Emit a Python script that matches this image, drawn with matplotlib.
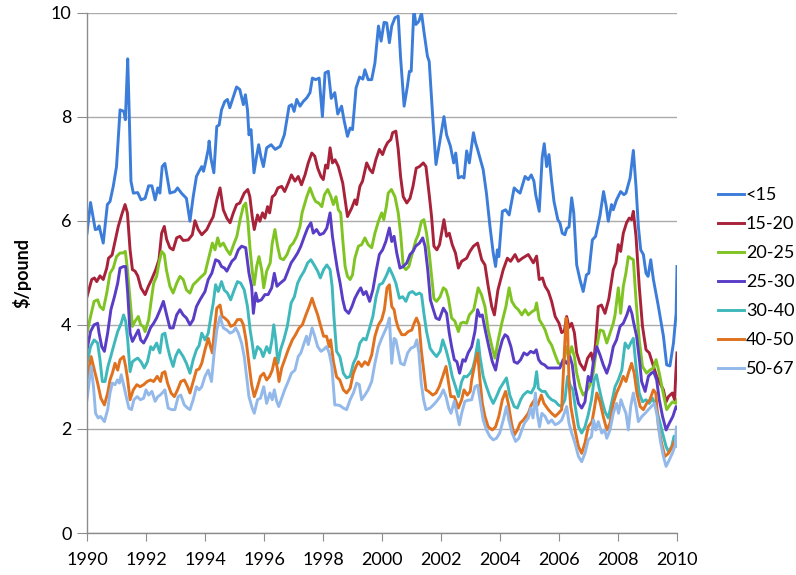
import matplotlib
matplotlib.use("Agg")
import matplotlib.pyplot as plt

plt.rcParams["font.family"] = ["Lato", "DejaVu Sans"]

# ── data (year, $/pound) ────────────────────────────────────────────────────
labels = ["<15", "15-20", "20-25", "25-30", "30-40", "40-50", "50-67"]
colors = ["#3C7DDA", "#A8233A", "#80C423", "#5A3DC6", "#3FB8BC", "#E0711F", "#93B8EA"]

t_lt15 = [1990.00, 1990.12, 1990.28, 1990.36, 1990.41, 1990.55, 1990.69, 1990.78, 1990.89, 1991.00,
          1991.12, 1991.25, 1991.30, 1991.38, 1991.42, 1991.49, 1991.57, 1991.72, 1991.83, 1991.97,
          1992.09, 1992.20, 1992.31, 1992.40, 1992.47, 1992.55, 1992.64, 1992.81, 1992.98, 1993.07,
          1993.20, 1993.37, 1993.49, 1993.60, 1993.71, 1993.80, 1993.89, 1993.95, 1994.00, 1994.11,
          1994.14, 1994.20, 1994.30, 1994.40, 1994.48, 1994.56, 1994.67, 1994.76, 1994.84, 1994.95,
          1995.07, 1995.18, 1995.30, 1995.37, 1995.44, 1995.49, 1995.56, 1995.66, 1995.75, 1995.82,
          1995.89, 1995.98, 1996.09, 1996.24, 1996.38, 1996.55, 1996.69, 1996.85, 1996.94, 1997.02,
          1997.11, 1997.22, 1997.33, 1997.45, 1997.56, 1997.64, 1997.75, 1997.87, 1997.98, 1998.07,
          1998.18, 1998.28, 1998.40, 1998.50, 1998.63, 1998.71, 1998.83, 1998.92, 1999.00, 1999.12,
          1999.24, 1999.35, 1999.42, 1999.53, 1999.65, 1999.76, 1999.88, 1999.97, 2000.07, 2000.16,
          2000.25, 2000.33, 2000.44, 2000.55, 2000.63, 2000.75, 2000.86, 2000.93, 2000.99, 2001.08,
          2001.15, 2001.25, 2001.34, 2001.42, 2001.54, 2001.60, 2001.74, 2001.83, 2001.97, 2002.10,
          2002.19, 2002.32, 2002.43, 2002.50, 2002.59, 2002.70, 2002.78, 2002.87, 2002.96, 2003.10,
          2003.17, 2003.24, 2003.43, 2003.54, 2003.66, 2003.77, 2003.85, 2003.91, 2003.96, 2004.08,
          2004.19, 2004.31, 2004.48, 2004.61, 2004.68, 2004.85, 2004.96, 2005.06, 2005.15, 2005.21,
          2005.33, 2005.43, 2005.50, 2005.58, 2005.66, 2005.75, 2005.83, 2005.96, 2006.03, 2006.11,
          2006.20, 2006.26, 2006.34, 2006.43, 2006.50, 2006.60, 2006.71, 2006.82, 2006.93, 2007.01,
          2007.13, 2007.24, 2007.39, 2007.51, 2007.60, 2007.67, 2007.78, 2007.84, 2007.95, 2008.09,
          2008.20, 2008.27, 2008.41, 2008.52, 2008.61, 2008.69, 2008.77, 2008.86, 2008.95, 2009.02,
          2009.11, 2009.20, 2009.37, 2009.54, 2009.65, 2009.76, 2009.88, 2009.97, 2010.00]
v_lt15 = [5.76, 6.35, 5.83, 5.84, 5.90, 5.57, 6.31, 6.37, 6.66, 7.04,
          8.13, 8.10, 7.94, 9.11, 8.30, 6.76, 6.53, 6.54, 6.40, 6.43,
          6.67, 6.67, 6.40, 6.63, 6.53, 7.04, 7.10, 6.53, 6.56, 6.63,
          6.53, 6.43, 5.99, 6.46, 6.85, 6.95, 7.04, 6.95, 7.07, 7.37,
          7.53, 7.20, 6.92, 7.81, 7.84, 8.13, 8.29, 8.33, 8.17, 8.36,
          8.57, 8.52, 8.23, 8.42, 8.13, 7.65, 7.75, 6.92, 7.24, 7.46,
          7.24, 7.04, 7.40, 7.46, 7.37, 7.43, 7.65, 8.20, 8.23, 8.10,
          8.33, 8.20, 8.29, 8.36, 8.46, 8.74, 8.71, 8.74, 8.00, 8.84,
          8.87, 8.35, 8.46, 8.05, 8.20, 7.94, 7.62, 7.78, 7.75, 8.55,
          8.76, 8.72, 8.90, 8.71, 8.71, 9.03, 9.74, 9.45, 9.81, 9.80,
          9.42, 9.74, 9.90, 9.93, 9.13, 8.20, 8.58, 8.87, 8.87, 10.06,
          9.77, 9.83, 9.99, 9.64, 9.16, 9.06, 7.81, 7.08, 7.56, 8.00,
          7.65, 7.43, 7.11, 7.30, 6.82, 6.85, 6.82, 7.34, 7.11, 7.69,
          7.50, 7.37, 6.98, 6.53, 5.89, 5.38, 5.12, 5.44, 5.31, 6.18,
          6.21, 6.11, 6.63, 6.56, 6.53, 6.85, 6.79, 6.88, 6.76, 6.50,
          6.18, 7.21, 7.48, 7.04, 7.27, 6.76, 6.37, 6.02, 5.96, 5.76,
          5.73, 5.85, 5.88, 6.44, 6.15, 5.15, 4.87, 4.64, 4.96, 4.99,
          5.63, 5.70, 6.10, 6.56, 6.28, 5.99, 6.31, 6.21, 6.40, 6.56,
          6.50, 6.53, 6.82, 7.35, 6.66, 5.89, 5.44, 5.35, 4.99, 4.93,
          5.25, 4.87, 4.35, 3.78, 3.23, 3.21, 3.65, 4.22, 5.12]

t_15_20 = [1990.00, 1990.16, 1990.25, 1990.33, 1990.44, 1990.55, 1990.67, 1990.73, 1990.85, 1990.95,
           1991.06, 1991.18, 1991.29, 1991.37, 1991.46, 1991.54, 1991.63, 1991.72, 1991.83, 1991.97,
           1992.08, 1992.19, 1992.33, 1992.44, 1992.53, 1992.62, 1992.70, 1992.81, 1992.92, 1993.04,
           1993.15, 1993.26, 1993.43, 1993.57, 1993.66, 1993.77, 1993.89, 1994.06, 1994.17, 1994.28,
           1994.40, 1994.51, 1994.62, 1994.74, 1994.85, 1994.96, 1995.07, 1995.18, 1995.33, 1995.45,
           1995.52, 1995.60, 1995.67, 1995.78, 1995.86, 1995.95, 1996.03, 1996.12, 1996.19, 1996.28,
           1996.37, 1996.47, 1996.60, 1996.70, 1996.82, 1996.93, 1997.05, 1997.16, 1997.27, 1997.39,
           1997.50, 1997.62, 1997.72, 1997.82, 1997.93, 1998.01, 1998.09, 1998.16, 1998.24, 1998.32,
           1998.41, 1998.52, 1998.67, 1998.83, 1998.97, 1999.08, 1999.14, 1999.25, 1999.34, 1999.48,
           1999.59, 1999.68, 1999.79, 1999.91, 2000.02, 2000.10, 2000.19, 2000.30, 2000.36, 2000.47,
           2000.55, 2000.63, 2000.72, 2000.84, 2000.95, 2001.05, 2001.16, 2001.27, 2001.40, 2001.49,
           2001.60, 2001.68, 2001.76, 2001.86, 2001.95, 2002.10, 2002.19, 2002.28, 2002.38, 2002.49,
           2002.59, 2002.70, 2002.87, 2002.98, 2003.10, 2003.24, 2003.38, 2003.49, 2003.60, 2003.72,
           2003.81, 2003.93, 2004.11, 2004.25, 2004.36, 2004.51, 2004.62, 2004.76, 2004.96, 2005.13,
           2005.24, 2005.33, 2005.44, 2005.53, 2005.64, 2005.75, 2005.87, 2006.00, 2006.09, 2006.18,
           2006.26, 2006.34, 2006.43, 2006.52, 2006.60, 2006.71, 2006.86, 2006.97, 2007.09, 2007.17,
           2007.24, 2007.33, 2007.44, 2007.56, 2007.69, 2007.84, 2007.93, 2008.01, 2008.09, 2008.18,
           2008.29, 2008.38, 2008.46, 2008.52, 2008.61, 2008.72, 2008.83, 2008.95, 2009.06, 2009.17,
           2009.31, 2009.42, 2009.54, 2009.63, 2009.71, 2009.84, 2009.92, 2009.96, 2010.00]
v_15_20 = [4.54, 4.87, 4.90, 4.83, 4.94, 4.87, 5.09, 5.28, 5.34, 5.60,
           5.89, 6.12, 6.31, 6.15, 5.44, 5.06, 5.03, 4.94, 4.71, 4.58,
           4.74, 4.87, 5.06, 5.25, 5.76, 5.89, 5.64, 5.48, 5.44, 5.67,
           5.70, 5.62, 5.63, 5.73, 6.00, 5.83, 5.73, 5.83, 5.96, 6.08,
           6.40, 6.63, 6.21, 6.05, 5.96, 6.15, 6.31, 6.34, 6.53, 6.60,
           6.46, 6.08, 5.83, 6.11, 5.99, 6.15, 6.05, 6.27, 6.15, 6.46,
           6.50, 6.63, 6.66, 6.56, 6.72, 6.88, 6.76, 6.85, 6.69, 6.88,
           7.11, 7.30, 7.24, 7.01, 6.85, 6.79, 7.07, 7.01, 7.40, 7.11,
           7.17, 7.04, 6.72, 6.08, 6.24, 6.40, 6.31, 6.66, 6.76, 7.11,
           6.98, 6.92, 7.17, 7.37, 7.27, 7.40, 7.50, 7.56, 7.69, 7.72,
           7.37, 6.85, 6.46, 6.34, 6.43, 6.66, 7.01, 7.04, 7.11, 7.04,
           6.50, 6.08, 5.51, 5.44, 5.54, 6.02, 5.70, 5.76, 5.54, 5.38,
           5.09, 5.22, 5.28, 5.41, 5.51, 5.57, 5.25, 5.15, 4.74, 4.35,
           4.19, 4.67, 5.06, 5.28, 5.22, 5.35, 5.22, 5.28, 5.35, 5.19,
           5.32, 4.87, 4.90, 4.74, 4.64, 4.45, 4.16, 4.03, 3.85, 3.88,
           4.16, 3.95, 4.03, 3.85, 3.46, 3.26, 3.13, 3.36, 3.46, 3.26,
           3.65, 4.35, 4.38, 4.22, 4.50, 5.06, 5.19, 5.54, 5.41, 5.76,
           5.96, 6.05, 6.02, 6.18, 5.70, 4.74, 3.97, 3.52, 3.46, 3.26,
           3.01, 2.88, 2.75, 2.52, 2.62, 2.69, 2.56, 3.07, 3.46]

t_20_25 = [1990.00, 1990.12, 1990.24, 1990.36, 1990.44, 1990.55, 1990.67, 1990.78, 1990.89, 1991.00,
           1991.12, 1991.22, 1991.30, 1991.37, 1991.46, 1991.54, 1991.63, 1991.74, 1991.82, 1991.90,
           1991.97, 1992.09, 1992.18, 1992.26, 1992.36, 1992.44, 1992.53, 1992.62, 1992.69, 1992.81,
           1992.92, 1993.04, 1993.15, 1993.26, 1993.37, 1993.49, 1993.60, 1993.71, 1993.83, 1994.00,
           1994.11, 1994.25, 1994.34, 1994.43, 1994.51, 1994.62, 1994.74, 1994.85, 1994.97, 1995.08,
           1995.19, 1995.30, 1995.38, 1995.45, 1995.53, 1995.61, 1995.67, 1995.75, 1995.83, 1995.92,
           1995.99, 1996.09, 1996.21, 1996.28, 1996.37, 1996.46, 1996.55, 1996.66, 1996.78, 1996.89,
           1996.99, 1997.11, 1997.22, 1997.29, 1997.45, 1997.56, 1997.67, 1997.75, 1997.85, 1997.96,
           1998.05, 1998.16, 1998.27, 1998.35, 1998.44, 1998.52, 1998.60, 1998.67, 1998.75, 1998.83,
           1998.92, 1999.00, 1999.08, 1999.20, 1999.31, 1999.42, 1999.53, 1999.65, 1999.76, 1999.88,
           1999.99, 2000.06, 2000.15, 2000.21, 2000.32, 2000.44, 2000.55, 2000.63, 2000.72, 2000.81,
           2000.91, 2001.03, 2001.15, 2001.23, 2001.34, 2001.42, 2001.51, 2001.60, 2001.68, 2001.76,
           2001.85, 2001.97, 2002.08, 2002.17, 2002.25, 2002.36, 2002.47, 2002.59, 2002.67, 2002.76,
           2002.87, 2002.96, 2003.11, 2003.26, 2003.37, 2003.49, 2003.60, 2003.74, 2003.83, 2003.94,
           2004.06, 2004.20, 2004.31, 2004.40, 2004.51, 2004.62, 2004.74, 2004.85, 2004.96, 2005.08,
           2005.19, 2005.24, 2005.33, 2005.44, 2005.53, 2005.64, 2005.75, 2005.87, 2005.98, 2006.09,
           2006.18, 2006.26, 2006.34, 2006.43, 2006.52, 2006.60, 2006.71, 2006.82, 2006.93, 2007.05,
           2007.16, 2007.28, 2007.39, 2007.50, 2007.62, 2007.73, 2007.84, 2007.90, 2008.01, 2008.09,
           2008.18, 2008.27, 2008.35, 2008.43, 2008.52, 2008.61, 2008.72, 2008.83, 2008.97, 2009.08,
           2009.20, 2009.29, 2009.40, 2009.51, 2009.65, 2009.76, 2009.85, 2009.96, 2010.00]
v_20_25 = [3.84, 4.16, 4.45, 4.48, 4.35, 4.29, 4.61, 4.99, 5.09, 5.31,
           5.38, 5.38, 5.41, 5.06, 4.48, 3.97, 4.07, 4.16, 4.00, 3.97,
           3.87, 4.10, 4.48, 4.80, 4.93, 5.19, 5.41, 5.35, 5.06, 4.74,
           4.61, 4.80, 4.93, 4.87, 4.67, 4.61, 4.77, 4.83, 4.90, 4.99,
           5.25, 5.57, 5.44, 5.67, 5.51, 5.57, 5.44, 5.35, 5.54, 5.70,
           6.02, 6.28, 6.34, 6.02, 5.44, 4.99, 4.77, 5.12, 5.31, 5.06,
           4.71, 5.03, 5.19, 5.57, 5.83, 5.51, 5.28, 5.25, 5.35, 5.51,
           5.57, 5.70, 5.89, 6.15, 6.46, 6.63, 6.46, 6.37, 6.34, 6.27,
           6.50, 6.60, 6.46, 6.31, 6.46, 6.21, 6.15, 5.63, 5.12, 4.93,
           4.87, 4.96, 5.28, 5.51, 5.54, 5.67, 5.54, 5.48, 5.76, 5.99,
           6.15, 6.02, 6.28, 6.53, 6.60, 6.46, 6.15, 5.76, 5.12, 5.06,
           5.12, 5.38, 5.63, 5.73, 5.99, 6.02, 5.76, 5.38, 4.93, 4.50,
           4.45, 4.54, 4.71, 4.67, 4.51, 4.13, 4.07, 3.87, 4.03, 4.05,
           4.03, 4.19, 4.29, 4.71, 4.58, 4.35, 3.90, 3.55, 3.36, 3.71,
           4.03, 4.35, 4.71, 4.45, 4.35, 4.29, 4.19, 4.29, 4.19, 4.25,
           4.29, 4.42, 4.10, 4.00, 3.90, 3.71, 3.61, 3.42, 3.26, 3.23,
           3.33, 3.58, 3.39, 3.58, 3.39, 3.07, 2.81, 2.65, 2.72, 2.84,
           3.07, 3.58, 3.90, 3.88, 3.65, 3.84, 4.03, 4.19, 4.71, 4.22,
           4.74, 5.00, 5.31, 5.28, 5.25, 4.48, 3.71, 3.20, 3.07, 3.13,
           3.17, 3.33, 3.07, 2.75, 2.37, 2.46, 2.52, 2.49, 2.56]

t_25_30 = [1990.00, 1990.12, 1990.24, 1990.36, 1990.41, 1990.50, 1990.59, 1990.70, 1990.81, 1990.93,
           1991.04, 1991.12, 1991.24, 1991.31, 1991.38, 1991.46, 1991.54, 1991.63, 1991.74, 1991.82,
           1991.92, 1992.04, 1992.15, 1992.26, 1992.36, 1992.48, 1992.59, 1992.70, 1992.81, 1992.92,
           1993.04, 1993.15, 1993.26, 1993.37, 1993.49, 1993.60, 1993.71, 1993.83, 1994.00, 1994.11,
           1994.23, 1994.36, 1994.47, 1994.56, 1994.66, 1994.74, 1994.82, 1994.91, 1995.02, 1995.13,
           1995.24, 1995.38, 1995.49, 1995.58, 1995.64, 1995.72, 1995.79, 1995.91, 1996.03, 1996.14,
           1996.26, 1996.35, 1996.44, 1996.55, 1996.70, 1996.81, 1996.92, 1997.03, 1997.14, 1997.25,
           1997.37, 1997.48, 1997.59, 1997.67, 1997.78, 1997.89, 1998.02, 1998.13, 1998.24, 1998.32,
           1998.41, 1998.49, 1998.58, 1998.67, 1998.75, 1998.87, 1998.98, 1999.08, 1999.20, 1999.28,
           1999.37, 1999.46, 1999.58, 1999.69, 1999.80, 1999.91, 2000.02, 2000.13, 2000.25, 2000.33,
           2000.41, 2000.50, 2000.61, 2000.72, 2000.84, 2000.95, 2001.05, 2001.14, 2001.27, 2001.38,
           2001.46, 2001.55, 2001.64, 2001.74, 2001.83, 2001.94, 2002.08, 2002.19, 2002.28, 2002.36,
           2002.45, 2002.54, 2002.63, 2002.74, 2002.82, 2002.92, 2003.04, 2003.15, 2003.24, 2003.32,
           2003.40, 2003.51, 2003.62, 2003.74, 2003.85, 2003.96, 2004.08, 2004.17, 2004.26, 2004.37,
           2004.48, 2004.59, 2004.70, 2004.81, 2004.92, 2005.04, 2005.15, 2005.23, 2005.31, 2005.40,
           2005.51, 2005.62, 2005.74, 2005.88, 2006.03, 2006.14, 2006.26, 2006.37, 2006.45, 2006.54,
           2006.66, 2006.77, 2006.88, 2006.99, 2007.08, 2007.16, 2007.28, 2007.39, 2007.50, 2007.62,
           2007.73, 2007.84, 2007.95, 2008.07, 2008.18, 2008.30, 2008.39, 2008.47, 2008.52, 2008.63,
           2008.74, 2008.80, 2008.92, 2009.03, 2009.13, 2009.21, 2009.31, 2009.40, 2009.51, 2009.63,
           2009.74, 2009.86, 2009.97, 2010.00]
v_25_30 = [3.52, 3.87, 4.00, 4.03, 3.84, 3.58, 3.49, 3.84, 4.29, 4.54,
           4.80, 5.09, 5.12, 5.12, 4.61, 3.84, 3.68, 3.78, 3.90, 3.71,
           3.65, 3.78, 3.94, 4.03, 4.13, 4.29, 4.45, 4.19, 3.94, 3.94,
           4.19, 4.29, 4.19, 4.13, 4.00, 4.10, 4.35, 4.48, 4.64, 4.87,
           4.99, 5.25, 5.22, 5.12, 5.09, 5.03, 5.12, 5.22, 5.28, 5.44,
           5.51, 5.48, 4.99, 4.74, 4.22, 4.61, 4.45, 4.48, 4.58, 4.58,
           4.71, 4.99, 4.74, 4.80, 4.87, 5.03, 5.19, 5.28, 5.38, 5.51,
           5.70, 5.86, 5.96, 5.76, 5.83, 5.73, 5.76, 5.86, 6.15, 5.70,
           5.35, 5.06, 4.80, 4.48, 4.29, 4.22, 4.35, 4.51, 4.64, 4.71,
           4.58, 4.64, 4.45, 4.67, 5.03, 5.35, 5.44, 5.60, 5.86, 5.60,
           5.70, 5.38, 5.09, 5.12, 5.19, 5.35, 5.41, 5.51, 5.57, 5.67,
           5.51, 5.06, 4.48, 4.29, 4.13, 4.10, 4.32, 4.22, 3.84, 3.58,
           3.33, 3.29, 3.07, 3.33, 3.30, 3.46, 3.58, 3.87, 4.29, 4.16,
           4.19, 3.87, 3.58, 3.29, 3.13, 3.46, 3.71, 3.81, 3.77, 3.58,
           3.29, 3.26, 3.33, 3.46, 3.42, 3.49, 3.46, 3.52, 3.33, 3.26,
           3.23, 3.17, 3.17, 3.17, 3.17, 3.33, 3.26, 3.39, 3.23, 2.81,
           2.49, 2.40, 2.52, 3.01, 2.91, 3.26, 3.58, 3.42, 3.23, 3.07,
           3.26, 3.58, 3.71, 3.97, 4.03, 4.19, 4.35, 4.22, 4.07, 3.78,
           3.26, 2.91, 2.72, 3.01, 3.07, 3.10, 2.94, 2.56, 2.24, 1.98,
           2.11, 2.24, 2.43, 2.40]

t_30_40 = [1990.00, 1990.12, 1990.24, 1990.36, 1990.44, 1990.52, 1990.61, 1990.71, 1990.82, 1990.93,
           1991.04, 1991.16, 1991.24, 1991.31, 1991.38, 1991.46, 1991.54, 1991.63, 1991.72, 1991.83,
           1991.94, 1992.05, 1992.16, 1992.24, 1992.36, 1992.47, 1992.55, 1992.64, 1992.73, 1992.81,
           1992.92, 1993.00, 1993.11, 1993.26, 1993.37, 1993.49, 1993.60, 1993.71, 1993.80, 1993.89,
           1994.00, 1994.11, 1994.20, 1994.28, 1994.36, 1994.45, 1994.56, 1994.65, 1994.76, 1994.87,
           1994.99, 1995.10, 1995.21, 1995.33, 1995.44, 1995.53, 1995.60, 1995.67, 1995.78, 1995.89,
           1995.97, 1996.09, 1996.19, 1996.27, 1996.33, 1996.40, 1996.47, 1996.56, 1996.67, 1996.79,
           1996.92, 1997.03, 1997.14, 1997.25, 1997.36, 1997.48, 1997.59, 1997.70, 1997.82, 1997.91,
           1998.02, 1998.13, 1998.24, 1998.31, 1998.37, 1998.46, 1998.57, 1998.69, 1998.80, 1998.92,
           1999.03, 1999.14, 1999.25, 1999.37, 1999.46, 1999.58, 1999.69, 1999.80, 1999.91, 2000.02,
           2000.16, 2000.25, 2000.36, 2000.47, 2000.59, 2000.70, 2000.81, 2000.92, 2001.03, 2001.15,
           2001.27, 2001.34, 2001.42, 2001.51, 2001.63, 2001.74, 2001.85, 2001.97, 2002.06, 2002.17,
           2002.29, 2002.38, 2002.51, 2002.59, 2002.70, 2002.78, 2002.87, 2002.99, 2003.08, 2003.15,
           2003.26, 2003.32, 2003.43, 2003.54, 2003.66, 2003.77, 2003.88, 2004.00, 2004.11, 2004.22,
           2004.33, 2004.48, 2004.59, 2004.70, 2004.79, 2004.93, 2005.06, 2005.17, 2005.24, 2005.30,
           2005.42, 2005.53, 2005.64, 2005.75, 2005.87, 2005.98, 2006.09, 2006.20, 2006.29, 2006.38,
           2006.47, 2006.55, 2006.66, 2006.77, 2006.88, 2006.99, 2007.10, 2007.19, 2007.27, 2007.35,
           2007.45, 2007.56, 2007.67, 2007.78, 2007.90, 2008.01, 2008.13, 2008.24, 2008.35, 2008.43,
           2008.52, 2008.61, 2008.72, 2008.83, 2008.95, 2009.06, 2009.17, 2009.28, 2009.40, 2009.51,
           2009.63, 2009.71, 2009.82, 2009.90, 2009.96, 2010.00]
v_30_40 = [3.26, 3.58, 3.71, 3.65, 3.33, 2.91, 2.91, 3.20, 3.42, 3.65,
           3.87, 4.03, 4.19, 4.07, 3.71, 3.10, 3.29, 3.33, 3.36, 3.29,
           3.17, 3.29, 3.58, 3.52, 3.65, 3.46, 3.81, 3.84, 3.58, 3.39,
           3.20, 3.39, 3.52, 3.39, 3.26, 3.07, 3.33, 3.52, 3.60, 3.84,
           3.71, 3.84, 4.16, 4.42, 4.77, 4.64, 4.83, 4.67, 4.61, 4.48,
           4.67, 4.83, 4.80, 4.67, 4.35, 3.90, 3.65, 3.36, 3.58, 3.52,
           3.39, 3.58, 3.46, 3.71, 4.00, 3.71, 3.26, 3.52, 3.71, 3.97,
           4.42, 4.54, 4.80, 4.93, 5.03, 5.19, 5.25, 5.15, 5.03, 4.90,
           5.06, 5.15, 5.06, 4.74, 4.16, 3.49, 3.39, 3.07, 2.98, 3.01,
           3.26, 3.39, 3.65, 3.74, 3.71, 3.94, 4.16, 4.54, 4.77, 4.80,
           4.96, 5.09, 4.96, 4.80, 4.51, 4.54, 4.45, 4.61, 4.64, 4.58,
           4.61, 4.58, 4.22, 3.87, 3.55, 3.46, 3.39, 3.49, 3.71, 3.52,
           3.26, 3.01, 2.78, 2.62, 2.91, 3.01, 3.00, 3.07, 3.17, 3.33,
           3.71, 3.39, 3.01, 2.81, 2.62, 2.49, 2.62, 2.78, 2.88, 2.98,
           2.65, 2.43, 2.40, 2.56, 2.65, 2.72, 2.69, 2.81, 3.10, 2.78,
           2.72, 2.72, 2.62, 2.56, 2.53, 2.46, 2.43, 2.56, 3.01, 2.84,
           2.75, 2.43, 2.04, 1.92, 2.04, 2.27, 2.56, 2.94, 3.04, 2.81,
           2.56, 2.33, 2.21, 2.49, 2.81, 2.94, 3.13, 3.65, 3.55, 3.65,
           3.74, 3.20, 2.69, 2.52, 2.56, 2.49, 2.59, 2.43, 2.17, 1.92,
           1.66, 1.56, 1.66, 1.86, 1.73, 1.92]

t_40_50 = [1990.00, 1990.08, 1990.14, 1990.22, 1990.36, 1990.47, 1990.59, 1990.70, 1990.78, 1990.86,
           1990.95, 1991.04, 1991.12, 1991.24, 1991.31, 1991.38, 1991.46, 1991.57, 1991.69, 1991.80,
           1991.92, 1992.04, 1992.15, 1992.26, 1992.38, 1992.49, 1992.55, 1992.64, 1992.73, 1992.85,
           1992.96, 1993.07, 1993.18, 1993.30, 1993.41, 1993.49, 1993.60, 1993.71, 1993.80, 1993.89,
           1994.00, 1994.11, 1994.20, 1994.25, 1994.32, 1994.40, 1994.51, 1994.58, 1994.67, 1994.78,
           1994.87, 1994.99, 1995.10, 1995.22, 1995.30, 1995.39, 1995.49, 1995.58, 1995.67, 1995.78,
           1995.88, 1995.99, 1996.09, 1996.19, 1996.28, 1996.37, 1996.45, 1996.51, 1996.60, 1996.70,
           1996.82, 1996.96, 1997.07, 1997.19, 1997.30, 1997.42, 1997.53, 1997.63, 1997.72, 1997.82,
           1997.91, 1998.02, 1998.12, 1998.21, 1998.26, 1998.35, 1998.46, 1998.57, 1998.69, 1998.80,
           1998.92, 1999.03, 1999.12, 1999.20, 1999.31, 1999.42, 1999.53, 1999.65, 1999.76, 1999.88,
           1999.99, 2000.08, 2000.17, 2000.25, 2000.33, 2000.41, 2000.47, 2000.55, 2000.67, 2000.78,
           2000.89, 2001.01, 2001.09, 2001.17, 2001.26, 2001.33, 2001.41, 2001.49, 2001.58, 2001.72,
           2001.83, 2001.94, 2002.06, 2002.17, 2002.25, 2002.33, 2002.45, 2002.59, 2002.70, 2002.78,
           2002.89, 2002.99, 2003.04, 2003.15, 2003.24, 2003.32, 2003.40, 2003.49, 2003.60, 2003.74,
           2003.85, 2003.96, 2004.08, 2004.19, 2004.28, 2004.39, 2004.48, 2004.59, 2004.68, 2004.79,
           2004.96, 2005.06, 2005.17, 2005.28, 2005.40, 2005.49, 2005.64, 2005.75, 2005.87, 2005.98,
           2006.09, 2006.18, 2006.24, 2006.29, 2006.34, 2006.40, 2006.54, 2006.66, 2006.77, 2006.88,
           2006.99, 2007.12, 2007.21, 2007.28, 2007.39, 2007.50, 2007.62, 2007.73, 2007.84, 2007.95,
           2008.07, 2008.18, 2008.27, 2008.35, 2008.46, 2008.55, 2008.64, 2008.75, 2008.86, 2008.97,
           2009.08, 2009.20, 2009.28, 2009.37, 2009.48, 2009.59, 2009.71, 2009.84, 2009.94, 2010.00]
v_40_50 = [2.85, 3.20, 3.39, 3.20, 2.88, 2.59, 2.46, 2.69, 2.94, 3.07,
           3.26, 3.13, 3.33, 3.39, 3.20, 2.94, 2.56, 2.75, 2.85, 2.81,
           2.85, 2.91, 2.94, 2.91, 3.01, 2.91, 3.07, 3.10, 2.88, 2.69,
           2.62, 2.75, 2.91, 2.94, 2.81, 2.69, 2.91, 3.13, 3.15, 3.26,
           3.52, 3.74, 3.55, 3.46, 3.90, 4.32, 4.38, 4.16, 4.13, 4.07,
           3.97, 4.00, 4.10, 4.10, 4.00, 3.71, 3.26, 2.85, 2.62, 2.81,
           3.01, 3.07, 2.94, 3.01, 3.13, 3.36, 3.17, 2.91, 3.17, 3.33,
           3.52, 3.71, 3.81, 3.94, 4.00, 4.19, 4.35, 4.51, 4.35, 4.19,
           4.00, 3.78, 3.78, 3.58, 3.71, 3.30, 3.00, 2.94, 2.75, 2.69,
           2.78, 3.07, 3.20, 3.29, 3.20, 3.29, 3.23, 3.42, 3.78, 4.00,
           4.10, 4.29, 4.71, 4.77, 4.35, 4.29, 4.10, 3.94, 3.81, 3.81,
           3.87, 3.90, 4.03, 4.13, 4.00, 3.52, 3.13, 2.75, 2.72, 2.65,
           2.69, 2.81, 3.01, 3.20, 2.91, 2.62, 2.62, 2.40, 2.56, 2.75,
           2.65, 2.72, 2.94, 3.26, 3.46, 2.94, 2.49, 2.24, 2.04, 1.98,
           2.04, 2.24, 2.56, 2.72, 2.49, 2.11, 1.88, 1.98, 2.11, 2.17,
           2.30, 2.46, 2.56, 2.46, 2.65, 2.49, 2.37, 2.30, 2.24, 2.30,
           2.37, 3.46, 4.13, 3.97, 2.88, 2.43, 1.98, 1.66, 1.53, 1.73,
           2.04, 2.14, 2.43, 2.69, 2.52, 2.24, 1.98, 2.11, 2.49, 2.69,
           2.84, 3.01, 2.91, 3.07, 3.26, 3.07, 2.69, 2.43, 2.37, 2.49,
           2.56, 2.75, 2.69, 2.04, 1.72, 1.47, 1.53, 1.66, 1.79, 1.73]

t_50_67 = [1990.00, 1990.08, 1990.14, 1990.22, 1990.29, 1990.38, 1990.46, 1990.59, 1990.70, 1990.78,
           1990.86, 1990.95, 1991.03, 1991.10, 1991.16, 1991.24, 1991.33, 1991.42, 1991.51, 1991.59,
           1991.70, 1991.81, 1991.92, 1992.00, 1992.09, 1992.20, 1992.31, 1992.40, 1992.48, 1992.55,
           1992.64, 1992.75, 1992.87, 1992.98, 1993.09, 1993.18, 1993.30, 1993.41, 1993.49, 1993.60,
           1993.71, 1993.80, 1993.89, 1994.00, 1994.11, 1994.22, 1994.31, 1994.40, 1994.51, 1994.62,
           1994.74, 1994.85, 1994.96, 1995.04, 1995.13, 1995.24, 1995.33, 1995.41, 1995.49, 1995.60,
           1995.67, 1995.78, 1995.88, 1995.99, 1996.09, 1996.20, 1996.28, 1996.35, 1996.43, 1996.50,
           1996.58, 1996.70, 1996.82, 1996.93, 1997.05, 1997.16, 1997.25, 1997.36, 1997.44, 1997.50,
           1997.63, 1997.72, 1997.82, 1997.93, 1998.01, 1998.12, 1998.21, 1998.30, 1998.40, 1998.48,
           1998.57, 1998.69, 1998.80, 1998.92, 1999.03, 1999.14, 1999.23, 1999.31, 1999.42, 1999.53,
           1999.65, 1999.76, 1999.88, 1999.99, 2000.07, 2000.17, 2000.25, 2000.33, 2000.41, 2000.47,
           2000.56, 2000.63, 2000.75, 2000.87, 2000.98, 2001.10, 2001.18, 2001.25, 2001.33, 2001.41,
           2001.49, 2001.63, 2001.74, 2001.85, 2001.97, 2002.08, 2002.17, 2002.26, 2002.34, 2002.45,
           2002.54, 2002.62, 2002.70, 2002.81, 2002.92, 2003.04, 2003.15, 2003.24, 2003.32, 2003.43,
           2003.54, 2003.66, 2003.77, 2003.88, 2003.99, 2004.11, 2004.22, 2004.30, 2004.41, 2004.53,
           2004.64, 2004.74, 2004.83, 2004.96, 2005.04, 2005.12, 2005.20, 2005.26, 2005.34, 2005.42,
           2005.53, 2005.64, 2005.75, 2005.87, 2005.98, 2006.09, 2006.18, 2006.26, 2006.34, 2006.43,
           2006.54, 2006.66, 2006.77, 2006.88, 2006.99, 2007.10, 2007.17, 2007.25, 2007.33, 2007.45,
           2007.55, 2007.62, 2007.73, 2007.84, 2007.95, 2008.02, 2008.10, 2008.18, 2008.27, 2008.35,
           2008.43, 2008.52, 2008.61, 2008.69, 2008.81, 2008.92, 2009.03, 2009.13, 2009.24, 2009.33,
           2009.43, 2009.54, 2009.63, 2009.71, 2009.84, 2009.94, 2009.98, 2010.00]
v_50_67 = [2.56, 2.94, 3.20, 2.81, 2.30, 2.21, 2.24, 2.14, 2.37, 2.69,
           2.88, 2.85, 2.94, 2.88, 3.04, 2.85, 2.62, 2.40, 2.37, 2.56,
           2.62, 2.56, 2.59, 2.75, 2.65, 2.72, 2.53, 2.62, 2.65, 2.69,
           2.75, 2.40, 2.37, 2.37, 2.62, 2.65, 2.46, 2.40, 2.37, 2.56,
           2.81, 2.75, 2.81, 3.01, 3.13, 2.91, 3.46, 3.90, 4.16, 3.94,
           3.90, 3.84, 3.87, 3.94, 3.84, 3.65, 3.39, 3.01, 2.62, 2.40,
           2.30, 2.56, 2.59, 2.81, 2.49, 2.69, 2.56, 2.75, 2.53, 2.43,
           2.56, 2.75, 2.91, 3.07, 3.13, 3.39, 3.46, 3.65, 3.78, 3.62,
           3.94, 3.78, 3.58, 3.49, 3.52, 3.58, 3.46, 3.20, 2.46, 2.46,
           2.45, 2.40, 2.37, 2.56, 2.69, 2.88, 2.85, 2.56, 2.65, 2.75,
           2.91, 3.26, 3.58, 3.74, 3.84, 3.97, 4.13, 3.26, 3.74, 3.71,
           3.46, 3.26, 3.23, 3.46, 3.55, 3.58, 3.71, 3.46, 2.88, 2.56,
           2.37, 2.40, 2.46, 2.53, 2.62, 2.75, 2.62, 2.40, 2.30, 2.53,
           2.30, 2.08, 2.30, 2.53, 2.55, 2.56, 2.81, 2.84, 2.56, 2.17,
           1.98, 1.85, 1.79, 1.82, 1.92, 2.17, 2.43, 2.17, 1.92, 1.76,
           1.82, 1.98, 2.11, 2.21, 2.40, 2.21, 2.69, 2.30, 2.04, 2.30,
           2.24, 2.11, 2.17, 2.08, 2.11, 2.17, 2.30, 2.43, 2.11, 1.92,
           1.73, 1.47, 1.37, 1.53, 1.79, 1.85, 2.17, 1.98, 2.14, 1.92,
           1.98, 1.82, 1.98, 2.30, 2.49, 2.30, 2.56, 2.43, 2.30, 1.98,
           2.43, 2.69, 2.43, 2.14, 2.24, 2.30, 2.37, 2.43, 2.49, 2.24,
           1.79, 1.47, 1.28, 1.37, 1.53, 1.69, 2.04, 1.66]

years_list = [t_lt15, t_15_20, t_20_25, t_25_30, t_30_40, t_40_50, t_50_67]
values_list = [v_lt15, v_15_20, v_20_25, v_25_30, v_30_40, v_40_50, v_50_67]

x_ticks = list(range(1990, 2011, 2))
y_ticks = [0, 2, 4, 6, 8, 10]

# ── figure ─────────────────────────────────────────────────────────────────
fig = plt.figure(figsize=(7.96, 5.75), dpi=100)
ax = fig.add_axes([87 / 796, 42 / 575, 590 / 796, 520.5 / 575])

for t, v, lab, col in zip(years_list, values_list, labels, colors):
    ax.plot(t, v, color=col, lw=2.1, label=lab, solid_joinstyle="round")

ax.set_xlim(1990, 2010)
ax.set_ylim(0, 10)
ax.set_xticks(x_ticks)
ax.set_yticks(y_ticks)
ax.grid(axis="y", color="#ABABAB", lw=1.0)
ax.set_axisbelow(True)

for side in ("top", "right"):
    ax.spines[side].set_visible(False)
for side in ("left", "bottom"):
    ax.spines[side].set_color("#8C8C8C")
    ax.spines[side].set_linewidth(1.0)

ax.tick_params(axis="x", direction="out", length=6, color="#8C8C8C",
               labelsize=13, pad=8)
ax.tick_params(axis="y", direction="out", length=7, color="#8C8C8C",
               labelsize=13, pad=4)

ax.set_ylabel(r"\$/pound", fontsize=13, fontweight="bold", labelpad=14)

fig.legend(loc="center left", bbox_to_anchor=(718 / 796, 1 - 282 / 575),
           bbox_transform=fig.transFigure, frameon=False, fontsize=13,
           handlelength=1.45, handletextpad=0.1, labelspacing=0.72,
           borderpad=0, borderaxespad=0)

fig.savefig("out.png", dpi=100)
